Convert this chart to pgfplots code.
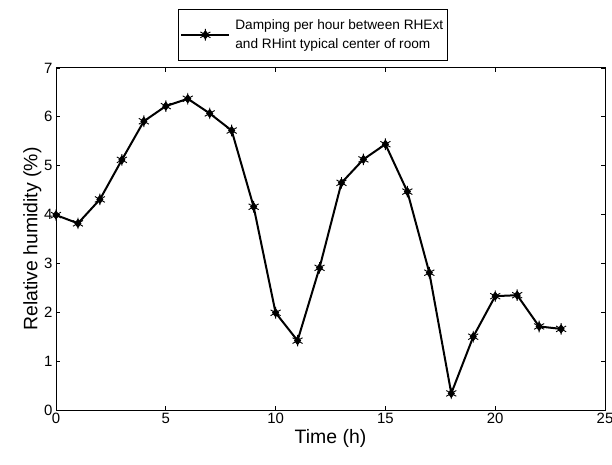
\documentclass[border=0pt]{standalone}
\usepackage{pgfplots}
\pgfplotsset{compat=1.18}
\usepackage{fontspec}
\setmainfont{Liberation Sans}
\pgfdeclareplotmark{dstar}{%
  \pgfuseplotmark{diamond*}%
  \pgfmathsetlength{\pgfplotmarksize}{1.45\pgfplotmarksize}%
  \pgfuseplotmark{asterisk}%
}
\begin{document}
\begin{tikzpicture}
\begin{axis}[
  at={(56bp,55bp)}, anchor=south west,
  scale only axis, width=549bp, height=342bp,
  xmin=0, xmax=25, ymin=0, ymax=7,
  xtick={0,5,10,15,20,25}, ytick={0,1,2,3,4,5,6,7},
  tick align=inside, major tick length=4bp,
  axis line style={line width=1bp}, tick style={line width=0.8bp, black},
  /pgf/number format/assume math mode=true,
  ticklabel style={font=\fontsize{15}{18}\selectfont},
  label style={font=\fontsize{19.5}{23}\selectfont},
  xlabel={Time (h)}, ylabel={Relative humidity (\%)},
  xlabel style={yshift=2bp},
  ylabel style={yshift=-4bp},
  legend cell align=left,
  legend style={at={(0.2222,1.1725)}, anchor=north west, draw=black, line width=0.8bp,
    font=\fontsize{13.7}{19.5}\selectfont, cells={align=left}, inner xsep=2bp, inner ysep=8bp,
    row sep=0pt, /tikz/every odd column/.append style={column sep=3bp}},
  legend image code/.code={%
    \draw[mark repeat=2,mark phase=2] plot coordinates {(0bp,0bp) (24bp,0bp) (48bp,0bp)};},
]
\addplot[black, line width=2bp, mark=dstar, mark size=4bp, mark options={solid, line width=0.9bp, fill=black}]
coordinates {
(0,3.99) (1,3.82) (2,4.31) (3,5.12) (4,5.91) (5,6.22) (6,6.37) (7,6.07)
(8,5.72) (9,4.16) (10,1.99) (11,1.42) (12,2.91) (13,4.65) (14,5.13) (15,5.44)
(16,4.47) (17,2.81) (18,0.34) (19,1.50) (20,2.33) (21,2.35) (22,1.71) (23,1.66)
};
\addlegendentry{Damping per hour between RHExt\\and RHint typical center of room}
\end{axis}
\pgfresetboundingbox
\useasboundingbox (0,0) rectangle (612bp,465bp);
\end{tikzpicture}
\end{document}
